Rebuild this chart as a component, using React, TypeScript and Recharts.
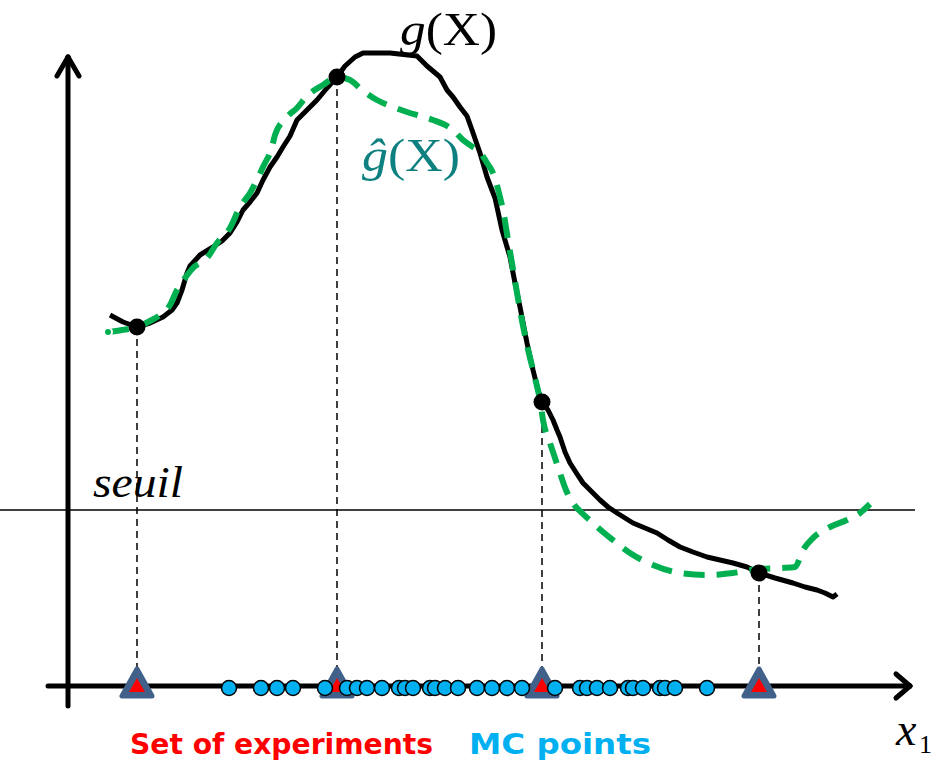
import { ComposedChart, Line, ReferenceLine, Scatter, XAxis, YAxis } from "recharts";

// g(X): true response (x position, height above the x1 axis)
const gX = [110, 123, 137, 150, 163, 172, 177, 182, 187, 190, 200, 213, 222, 230, 237, 243, 250, 257, 263, 270, 277, 283, 290, 297, 305, 317, 327, 337, 345, 355, 363, 390, 417, 427, 440, 447, 453, 460, 467, 472, 480, 487, 495, 502, 510, 515, 520, 527, 533, 538, 542, 548, 553, 557, 560, 565, 570, 577, 583, 592, 600, 608, 617, 625, 633, 645, 657, 668, 680, 693, 707, 720, 733, 747, 759, 775, 793, 805, 817, 825, 833, 837];
const gValues = [371, 364, 359, 363, 369, 376, 383, 396, 413, 420, 431, 439, 445, 453, 464, 476, 484, 493, 506, 519, 529, 539, 550, 566, 574, 586, 598, 609, 620, 629, 633, 633, 630, 620, 609, 596, 589, 579, 570, 556, 533, 509, 488, 456, 429, 403, 379, 343, 316, 296, 284, 276, 266, 256, 249, 234, 223, 212, 203, 194, 186, 179, 173, 168, 163, 158, 153, 146, 139, 134, 129, 126, 123, 119, 113, 108, 103, 99, 96, 93, 89, 92];

// ĝ(X): metamodel
const hatX = [108, 122, 137, 150, 160, 170, 177, 185, 193, 207, 217, 230, 240, 250, 257, 263, 272, 275, 287, 297, 307, 323, 337, 350, 362, 377, 393, 407, 420, 433, 453, 463, 473, 480, 487, 493, 500, 503, 508, 514, 520, 527, 535, 540, 543, 550, 555, 560, 566, 573, 583, 593, 603, 613, 630, 653, 680, 707, 733, 759, 782, 795, 803, 813, 830, 847, 860, 870];
const hatValues = [354, 356, 359, 365, 371, 381, 396, 408, 418, 428, 443, 458, 479, 493, 506, 519, 539, 551, 569, 578, 590, 601, 609, 606, 596, 586, 579, 574, 570, 566, 556, 546, 539, 534, 523, 513, 489, 476, 446, 411, 376, 341, 308, 286, 266, 243, 228, 213, 196, 183, 172, 163, 154, 146, 133, 121, 113, 111, 113, 117, 118, 119, 136, 148, 159, 166, 173, 182];

// set of experiments
const expX = [137, 337, 542, 759];
const expValues = [359, 609, 284, 113];

// Monte Carlo points along x1
const mcX = [229, 261, 277, 293, 325, 347, 357, 367, 382, 399, 405, 413, 430, 435, 445, 458, 477, 492, 507, 522, 555, 580, 587, 597, 610, 628, 633, 643, 660, 665, 675, 707];

const seuil = 176;

const gRows = gX.map((x, i) => ({ x, y: gValues[i] }));
const hatRows = hatX.map((x, i) => ({ x, y: hatValues[i] }));
const expRows = expX.map((x, i) => ({ x, y: expValues[i] }));
const expAxisRows = expX.map((x) => ({ x, y: 0 }));
const mcRows = mcX.map((x) => ({ x, y: -2 }));

const serif = "'Liberation Serif', 'DejaVu Serif', serif";
const sans = "'DejaVu Sans Condensed', 'DejaVu Sans', sans-serif";

function BlackDot(props: any) {
	return <circle cx={props.cx} cy={props.cy} r={8.5} fill="#000" />;
}

function Triangle(props: any) {
	const { cx, cy } = props;
	return (
		<g>
			<polygon
				points={`${cx},${cy - 17} ${cx - 15},${cy + 10} ${cx + 15},${cy + 10}`}
				fill="#41618A"
				stroke="#41618A"
				strokeWidth={5}
				strokeLinejoin="round"
			/>
			<polygon points={`${cx},${cy - 8} ${cx - 8},${cy + 6} ${cx + 8},${cy + 6}`} fill="#FF0000" />
		</g>
	);
}

function McDot(props: any) {
	return <circle cx={props.cx} cy={props.cy} r={7.5} fill="#00B0F0" stroke="#000" strokeWidth={1.5} />;
}

const axisStroke = { stroke: "#000", strokeWidth: 5, strokeLinecap: "round" as const };

export default function App() {
	return (
		<div style={{ position: "relative", width: 931, height: 761, background: "#fff" }}>
			<style>{`body{margin:0}`}</style>
			<ComposedChart width={931} height={761} margin={{ top: 0, right: 0, bottom: 0, left: 0 }}>
				<XAxis dataKey="x" type="number" domain={[0, 931]} allowDataOverflow hide />
				<YAxis dataKey="y" type="number" domain={[-75, 686]} allowDataOverflow hide />

				<ReferenceLine
					segment={[{ x: 0, y: seuil }, { x: 915, y: seuil }]}
					stroke="#000"
					strokeWidth={1.5}
				/>

				{expX.map((x, i) => (
					<ReferenceLine
						key={x}
						segment={[{ x, y: expValues[i] }, { x, y: 0 }]}
						stroke="#000"
						strokeWidth={1.5}
						strokeDasharray="7 5"
					/>
				))}

				{/* axes with arrow heads */}
				<ReferenceLine segment={[{ x: 68, y: -20 }, { x: 68, y: 629 }]} {...axisStroke} />
				<ReferenceLine segment={[{ x: 57, y: 610 }, { x: 68, y: 629 }]} {...axisStroke} />
				<ReferenceLine segment={[{ x: 79, y: 610 }, { x: 68, y: 629 }]} {...axisStroke} />
				<ReferenceLine segment={[{ x: 48, y: 0 }, { x: 910, y: 0 }]} {...axisStroke} />
				<ReferenceLine segment={[{ x: 896, y: 12 }, { x: 910, y: 0 }]} {...axisStroke} />
				<ReferenceLine segment={[{ x: 896, y: -12 }, { x: 910, y: 0 }]} {...axisStroke} />

				<Line
					data={gRows}
					dataKey="y"
					type="linear"
					stroke="#000"
					strokeWidth={5}
					strokeLinejoin="round"
					dot={false}
					isAnimationActive={false}
				/>
				<Line
					data={hatRows}
					dataKey="y"
					type="monotone"
					stroke="#00B050"
					strokeWidth={6}
					strokeDasharray="21 12"
					dot={false}
					isAnimationActive={false}
				/>
				<Scatter data={expRows} shape={BlackDot} isAnimationActive={false} />
				<Scatter data={expAxisRows} shape={Triangle} isAnimationActive={false} />
				<Scatter data={mcRows} shape={McDot} isAnimationActive={false} />
			</ComposedChart>

			<svg width={931} height={761} style={{ position: "absolute", left: 0, top: 0, pointerEvents: "none" }}>
				<text
					x={400}
					y={45}
					fontFamily={serif}
					fontSize={46}
					fill="#000"
					textLength={97}
					lengthAdjust="spacingAndGlyphs"
				>
					<tspan fontStyle="italic">g</tspan>
					<tspan>(X)</tspan>
				</text>
				<text
					x={362}
					y={171}
					fontFamily={serif}
					fontSize={46}
					fill="#0E8080"
					textLength={98}
					lengthAdjust="spacingAndGlyphs"
				>
					<tspan fontStyle="italic">ĝ</tspan>
					<tspan>(X)</tspan>
				</text>
				<text
					x={93}
					y={497}
					fontFamily={serif}
					fontSize={45}
					fontStyle="italic"
					fill="#000"
					textLength={90}
					lengthAdjust="spacingAndGlyphs"
				>
					seuil
				</text>
				<text x={896} y={745} fontFamily={serif} fontSize={46} fontStyle="italic" fill="#000">
					x
				</text>
				<text x={919} y={753} fontFamily={serif} fontSize={26} fill="#000">
					1
				</text>
				<text
					x={130}
					y={754}
					fontFamily={sans}
					fontWeight="bold"
					fontSize={29}
					fill="#FF0000"
					textLength={303}
					lengthAdjust="spacingAndGlyphs"
				>
					Set of experiments
				</text>
				<text
					x={469}
					y={754}
					fontFamily={sans}
					fontWeight="bold"
					fontSize={29}
					fill="#00B0F0"
					textLength={182}
					lengthAdjust="spacingAndGlyphs"
				>
					MC points
				</text>
			</svg>
		</div>
	);
}
